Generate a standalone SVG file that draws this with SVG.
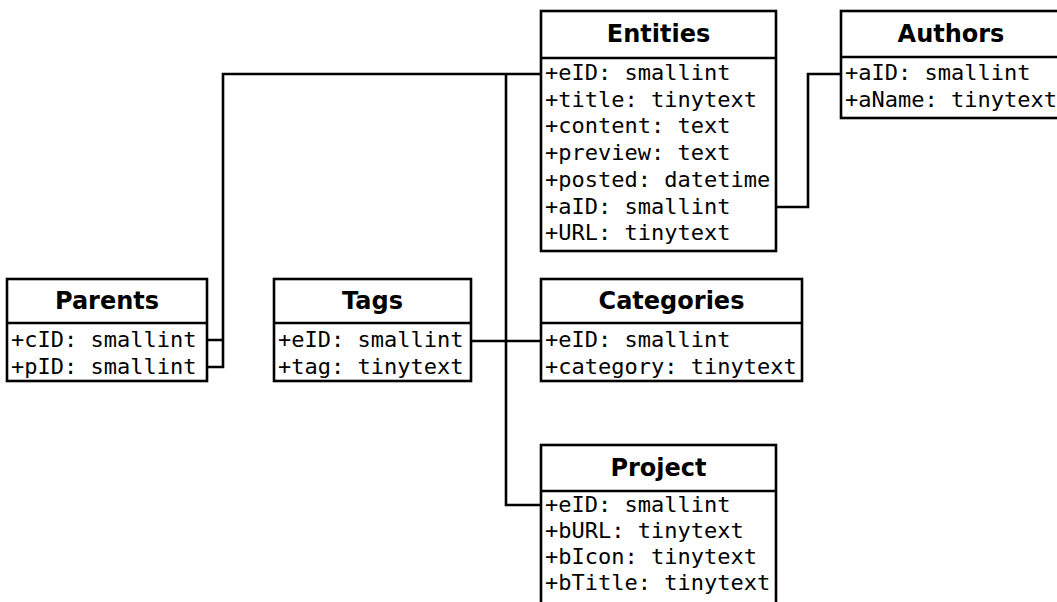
<svg xmlns="http://www.w3.org/2000/svg" width="1057" height="602" viewBox="0 0 1057 602">
<style>
  .box { fill: #ffffff; stroke: #000000; stroke-width: 2.6; }
  .div { stroke: #000000; stroke-width: 2.6; }
  .title { font-family: "DejaVu Sans", sans-serif; font-weight: bold; font-size: 24px; fill: #000; text-anchor: middle; }
  .attr { font-family: "DejaVu Sans Mono", monospace; font-size: 22px; fill: #000; }
  .conn { fill: none; stroke: #000000; stroke-width: 2.6; }
</style>
<rect width="1057" height="602" fill="#ffffff"/>
<g id="connectors">
  <path class="conn" d="M541,74 H223 V340 H207 M223,340 V367 H207"/>
  <path class="conn" d="M506,74 V505 H541"/>
  <path class="conn" d="M471,341 H541"/>
  <path class="conn" d="M776,207 H808 V74 H841"/>
</g>
<g id="entities">
  <rect class="box" x="541" y="11" width="235" height="240"/>
  <line class="div" x1="541" y1="58" x2="776" y2="58"/>
  <text class="title" x="658.5" y="42">Entities</text>
  <text class="attr" x="545" y="80">+eID: smallint</text>
  <text class="attr" x="545" y="106.7">+title: tinytext</text>
  <text class="attr" x="545" y="133.4">+content: text</text>
  <text class="attr" x="545" y="160">+preview: text</text>
  <text class="attr" x="545" y="186.8">+posted: datetime</text>
  <text class="attr" x="545" y="213.5">+aID: smallint</text>
  <text class="attr" x="545" y="240">+URL: tinytext</text>
</g>
<g id="authors">
  <rect class="box" x="841" y="11" width="221" height="107"/>
  <line class="div" x1="841" y1="57" x2="1062" y2="57"/>
  <text class="title" x="951" y="42">Authors</text>
  <text class="attr" x="845" y="80">+aID: smallint</text>
  <text class="attr" x="845" y="106.7">+aName: tinytext</text>
</g>
<g id="parents">
  <rect class="box" x="7" y="279" width="200" height="102"/>
  <line class="div" x1="7" y1="323" x2="207" y2="323"/>
  <text class="title" x="107" y="309">Parents</text>
  <text class="attr" x="11" y="347">+cID: smallint</text>
  <text class="attr" x="11" y="374">+pID: smallint</text>
</g>
<g id="tags">
  <rect class="box" x="274" y="279" width="197" height="102"/>
  <line class="div" x1="274" y1="323" x2="471" y2="323"/>
  <text class="title" x="372.5" y="309">Tags</text>
  <text class="attr" x="278" y="347">+eID: smallint</text>
  <text class="attr" x="278" y="374">+tag: tinytext</text>
</g>
<g id="categories">
  <rect class="box" x="541" y="279" width="261" height="102"/>
  <line class="div" x1="541" y1="323" x2="802" y2="323"/>
  <text class="title" x="671.5" y="309">Categories</text>
  <text class="attr" x="545" y="347">+eID: smallint</text>
  <text class="attr" x="545" y="374">+category: tinytext</text>
</g>
<g id="project">
  <rect class="box" x="541" y="445" width="235" height="160"/>
  <line class="div" x1="541" y1="491" x2="776" y2="491"/>
  <text class="title" x="658.5" y="476">Project</text>
  <text class="attr" x="545" y="512">+eID: smallint</text>
  <text class="attr" x="545" y="538">+bURL: tinytext</text>
  <text class="attr" x="545" y="564">+bIcon: tinytext</text>
  <text class="attr" x="545" y="590">+bTitle: tinytext</text>
</g>
</svg>
